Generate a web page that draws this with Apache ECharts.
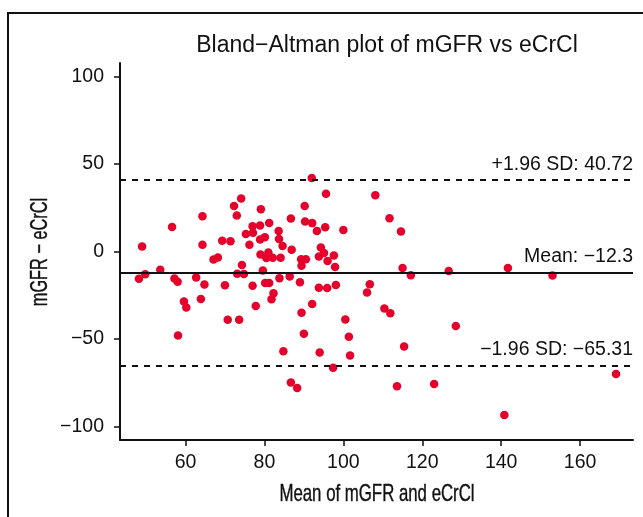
<!DOCTYPE html>
<html>
<head>
<meta charset="utf-8">
<script src="https://cdn.jsdelivr.net/npm/echarts@6/dist/echarts.min.js"></script>
<style>html,body{margin:0;padding:0;background:#fff;}#c{width:643px;height:517px;}</style>
</head>
<body>
<div id="c"></div>
<script>
// Mean of mGFR and eCrCl (x) and mGFR − eCrCl (y)
const meanValues = [49.0,56.6,53.6,49.8,48.2,57.2,58.0,62.7,64.8,64.3,64.3,67.1,68.2,69.3,71.4,70.0,72.3,74.1,73.0,75.3,77.0,77.1,76.2,74.3,73.1,74.8,77.0,79.1,78.9,81.2,78.9,80.1,83.6,83.7,84.6,79.0,81.0,80.5,82.1,84.1,79.6,80.2,81.2,83.8,82.3,81.8,86.7,86.9,86.4,89.0,92.0,95.6,90.2,90.3,92.1,95.4,93.3,100.0,94.3,95.1,93.8,97.6,96.0,97.9,89.3,90.5,89.4,93.8,95.9,98.1,108.1,111.7,114.6,115.0,117.1,126.7,106.7,106.0,59.6,60.2,63.9,77.8,70.7,73.6,58.1,84.8,86.7,88.3,89.4,92.1,100.5,110.4,111.9,90.0,101.4,94.0,101.7,115.4,97.4,113.6,123.0,141.7,153.0,128.5,140.8,169.1];
const diffValues = [2.9,14.0,-10.4,-13.0,-15.6,-15.4,-17.3,-14.8,-18.9,20.1,3.9,-4.6,-3.4,6.2,5.9,-19.2,26.0,30.3,20.5,10.0,14.4,10.7,3.9,-7.7,-12.7,-12.8,-19.5,24.1,14.9,16.3,6.9,8.2,11.7,7.1,3.2,-1.7,-0.6,-3.7,-3.5,-3.5,-10.8,-18.0,-18.0,-15.2,-23.9,-27.2,18.9,1.0,-14.2,-17.6,42.0,32.9,26.0,17.1,16.2,13.9,11.7,12.3,2.3,-0.8,-2.9,-2.3,-5.4,-8.8,-4.4,-4.4,-8.2,-20.7,-20.9,-19.1,32.1,19.0,11.4,-9.4,-13.6,-11.1,-18.7,-23.4,-28.5,-31.9,-27.1,-31.1,-39.0,-39.0,-47.9,-56.9,-74.8,-77.9,-34.9,-29.9,-38.8,-32.5,-35.2,-47.0,-48.7,-57.6,-59.4,-54.2,-66.4,-76.9,-75.7,-9.4,-13.7,-42.5,-93.3,-69.9];
const refValues = [40.72, -12.3, -65.31];
const refLabels = ['+1.96 SD: 40.72', 'Mean: \u221212.3', '\u22121.96 SD: \u221265.31'];
const xTicks = [60, 80, 100, 120, 140, 160];
const yTicks = [-100, -50, 0, 50, 100];
const xTitle = 'Mean of mGFR and eCrCl';
const yTitle = 'mGFR \u2212 eCrCl';

const minus = v => String(v).replace('-', '\u2212');
const points = meanValues.map((x, i) => [x, diffValues[i]]);
const sans = '"Liberation Sans", Arial, Helvetica, sans-serif';
const ink = '#111';

const chart = echarts.init(document.getElementById('c'), null, {renderer: 'canvas'});
chart.setOption({
  animation: false,
  backgroundColor: '#fff',
  title: {
    text: 'Bland\u2212Altman plot of mGFR vs eCrCl',
    left: 382, top: 29, textAlign: 'center',
    textStyle: {fontFamily: sans, fontSize: 23, fontWeight: 'normal', color: ink}
  },
  grid: {left: 120, right: 10, top: 63, bottom: 77, containLabel: false},
  xAxis: {
    type: 'value', min: 43.4, max: 173.4,
    axisLine: {show: true, onZero: false, lineStyle: {color: ink, width: 2}},
    axisTick: {show: true, length: 6, lineStyle: {color: ink, width: 1.5}, customValues: xTicks},
    axisLabel: {customValues: xTicks, margin: 13, fontFamily: sans, fontSize: 19.5, color: ink, formatter: minus},
    splitLine: {show: false}
  },
  yAxis: {
    type: 'value', min: -107.6, max: 107.6,
    axisLine: {show: true, onZero: false, lineStyle: {color: ink, width: 2}},
    axisTick: {show: true, length: 6, lineStyle: {color: ink, width: 1.5}, customValues: yTicks},
    axisLabel: {customValues: yTicks, margin: 16, fontFamily: sans, fontSize: 19.5, color: ink, formatter: minus},
    splitLine: {show: false}
  },
  graphic: [
    {type: 'line', shape: {x1: 8, y1: 13, x2: 8, y2: 517}, style: {stroke: ink, lineWidth: 2}},
    {type: 'line', shape: {x1: 7, y1: 13, x2: 643, y2: 13}, style: {stroke: ink, lineWidth: 2}},
    {type: 'text', x: 377, y: 494, scaleX: 0.7,
     style: {text: xTitle, fontFamily: sans, fontSize: 24, fill: ink, stroke: ink, lineWidth: 0.4,
             align: 'center', verticalAlign: 'middle'}},
    {type: 'text', x: 40, y: 252, rotation: Math.PI / 2, scaleX: 0.68,
     style: {text: yTitle, fontFamily: sans, fontSize: 24, fill: ink, stroke: ink, lineWidth: 0.4,
             align: 'center', verticalAlign: 'middle'}}
  ],
  series: [{
    type: 'scatter',
    data: points,
    symbol: 'circle',
    symbolSize: 8.5,
    itemStyle: {color: '#E4002B', opacity: 1},
    markLine: {
      silent: true, symbol: 'none', animation: false,
      data: refValues.map((v, i) => ({
        yAxis: v,
        lineStyle: {color: ink, width: 2, type: i === 1 ? 'solid' : [6, 6]},
        label: {show: true, position: 'insideEndTop', formatter: refLabels[i], distance: [0, 6],
                fontFamily: sans, fontSize: 19.5, color: ink}
      }))
    }
  }]
});
</script>
</body>
</html>
